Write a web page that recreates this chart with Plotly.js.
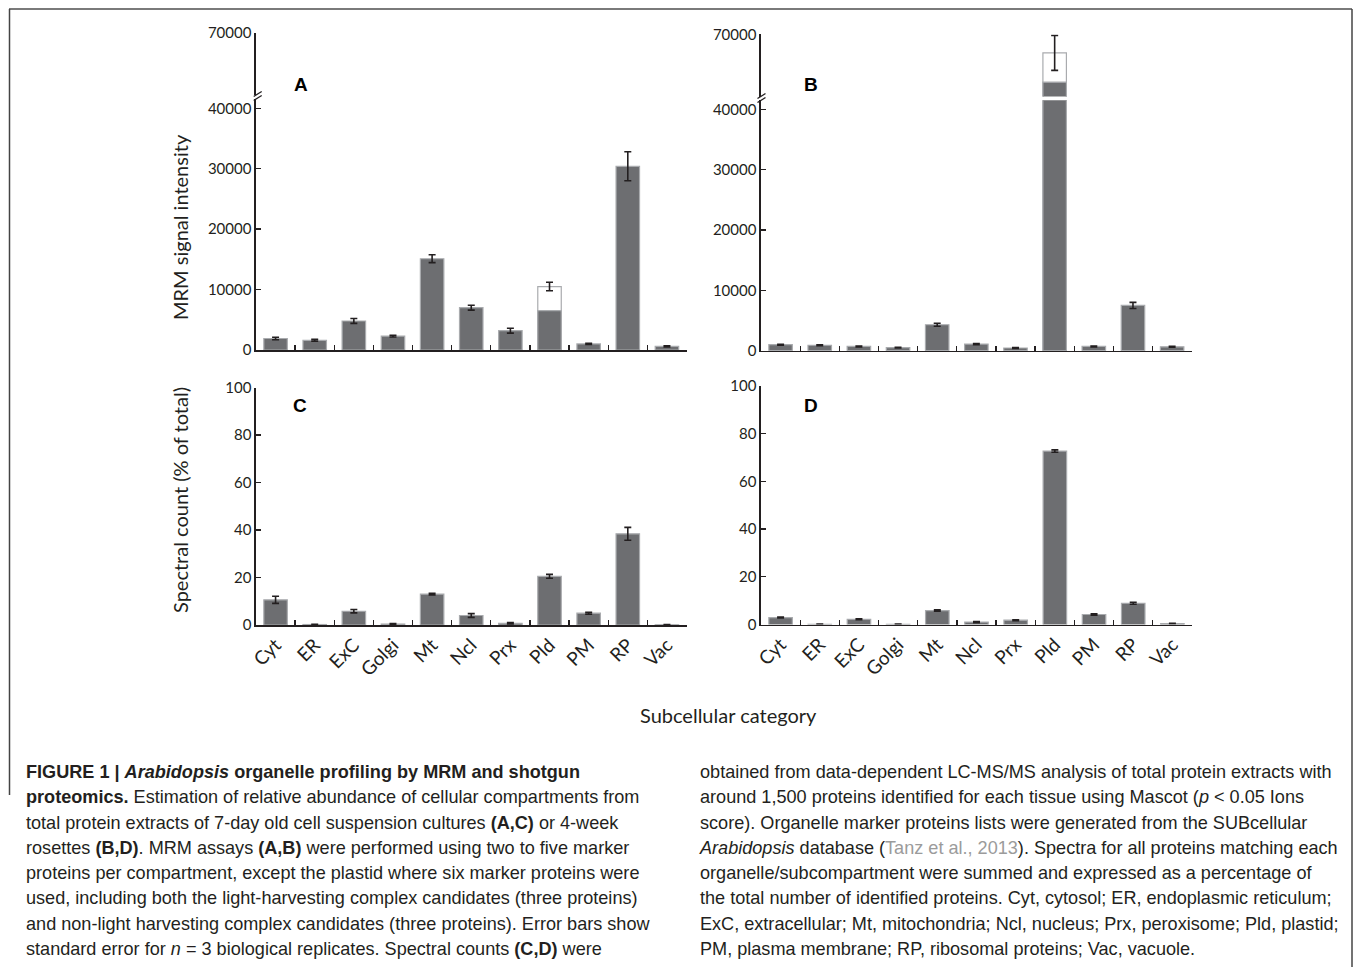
<!DOCTYPE html>
<html>
<head>
<meta charset="utf-8">
<script src="https://cdn.plot.ly/plotly-3.0.1.min.js"></script>
<style>
  html, body { margin: 0; padding: 0; background: #fff; }
  #chart { position: absolute; left: 0; top: 0; width: 1355px; height: 967px; }
  .cap { position: absolute; z-index: 10; font-family: "Liberation Sans", Arial, sans-serif;
         font-size: 18.1px; line-height: 25.3px; color: #231f20; white-space: nowrap; }
  .cap b { font-weight: 700; }
  .cap .ref { color: #9b9b9b; }
</style>
</head>
<body>
<div id="chart"></div>
<div class="cap" id="capL" style="left:26px; top:760px;">
  <div><b>FIGURE 1 | <i>Arabidopsis</i> organelle profiling by MRM and shotgun</b></div>
  <div><b>proteomics.</b> Estimation of relative abundance of cellular compartments from</div>
  <div>total protein extracts of 7-day old cell suspension cultures <b>(A,C)</b> or 4-week</div>
  <div>rosettes <b>(B,D)</b>. MRM assays <b>(A,B)</b> were performed using two to five marker</div>
  <div>proteins per compartment, except the plastid where six marker proteins were</div>
  <div>used, including both the light-harvesting complex candidates (three proteins)</div>
  <div>and non-light harvesting complex candidates (three proteins). Error bars show</div>
  <div>standard error for <i>n</i> = 3 biological replicates. Spectral counts <b>(C,D)</b> were</div>
</div>
<div class="cap" id="capR" style="left:700px; top:760px;">
  <div>obtained from data-dependent LC-MS/MS analysis of total protein extracts with</div>
  <div>around 1,500 proteins identified for each tissue using Mascot (<i>p</i> &lt; 0.05 Ions</div>
  <div>score). Organelle marker proteins lists were generated from the SUBcellular</div>
  <div><i>Arabidopsis</i> database (<span class="ref">Tanz et al., 2013</span>). Spectra for all proteins matching each</div>
  <div>organelle/subcompartment were summed and expressed as a percentage of</div>
  <div>the total number of identified proteins. Cyt, cytosol; ER, endoplasmic reticulum;</div>
  <div>ExC, extracellular; Mt, mitochondria; Ncl, nucleus; Prx, peroxisome; Pld, plastid;</div>
  <div>PM, plasma membrane; RP, ribosomal proteins; Vac, vacuole.</div>
</div>
<script>
// ---------------- data ----------------
const categories = ["Cyt", "ER", "ExC", "Golgi", "Mt", "Ncl", "Prx", "Pld", "PM", "RP", "Vac"];

// MRM signal intensity, cell suspension cultures (panel A): total per compartment
const mrmCellTotal = [1900, 1600, 4800, 2300, 15100, 7000, 3200, 10500, 1000, 30400, 600];
const mrmCellErr   = [200, 150, 400, 150, 650, 400, 400, 700, 100, 2400, 80];
// plastid non-light-harvesting (dark) portion of the Pld bar
const mrmCellPldNonLhc = 6500;

// MRM signal intensity, rosettes (panel B)
const mrmRosTotal = [1000, 900, 700, 500, 4300, 1100, 450, 67000, 700, 7500, 650];
const mrmRosErr   = [80, 80, 70, 60, 250, 100, 60, 2800, 70, 500, 60];
const mrmRosPldNonLhc = 62300;

// Spectral count (% of total), cell cultures (panel C)
const spcCell    = [10.6, 0.2, 5.8, 0.4, 13.0, 4.0, 0.7, 20.5, 5.0, 38.4, 0.1];
const spcCellErr = [1.5, 0.1, 0.7, 0.2, 0.3, 0.8, 0.3, 0.8, 0.4, 2.7, 0.05];

// Spectral count (% of total), rosettes (panel D)
const spcRos    = [2.9, 0.1, 2.2, 0.1, 5.85, 1.0, 1.8, 72.7, 4.2, 8.9, 0.4];
const spcRosErr = [0.2, 0.05, 0.2, 0.05, 0.3, 0.2, 0.2, 0.5, 0.3, 0.4, 0.1];

const tickLow  = [0, 10000, 20000, 30000, 40000];
const tickHigh = [70000];
const tickPct  = [0, 20, 40, 60, 80, 100];

// ---------------- styling ----------------
const W = 1355, H = 967;
const X = p => p / W;
const Y = p => 1 - p / H;
const DARK = '#6d6e71';
const EDGE = '#a9abae';
const INK = '#231f20';
const FONT = 'Lato, "Open Sans", sans-serif';

function totalBars(vals, errs, xa, ya) {
  return {
    type: 'bar', x: categories, y: vals, xaxis: xa, yaxis: ya, width: 0.6,
    marker: { color: categories.map(c => c === 'Pld' ? '#ffffff' : DARK),
              line: { color: EDGE, width: 1.2 } },
    error_y: { type: 'data', array: errs, visible: !!errs, color: INK, thickness: 1.6, width: 3.5 },
    hoverinfo: 'x+y', showlegend: false
  };
}
function pldBars(v, xa, ya) {
  return {
    type: 'bar', x: categories, y: categories.map(c => c === 'Pld' ? v : null),
    xaxis: xa, yaxis: ya, width: 0.6,
    marker: { color: DARK, line: { color: EDGE, width: 1.2 } },
    hoverinfo: 'x+y', showlegend: false
  };
}

const traces = [
  totalBars(mrmCellTotal, mrmCellErr, 'x', 'y'),
  pldBars(mrmCellPldNonLhc, 'x', 'y'),
  totalBars(mrmCellTotal, mrmCellErr, 'x', 'y2'),
  pldBars(mrmCellPldNonLhc, 'x', 'y2'),
  totalBars(mrmRosTotal, mrmRosErr, 'x2', 'y3'),
  pldBars(mrmRosPldNonLhc, 'x2', 'y3'),
  totalBars(mrmRosTotal, mrmRosErr, 'x2', 'y4'),
  pldBars(mrmRosPldNonLhc, 'x2', 'y4'),
  Object.assign(totalBars(spcCell, spcCellErr, 'x3', 'y5'), { marker: { color: DARK, line: { color: EDGE, width: 1.2 } } }),
  Object.assign(totalBars(spcRos, spcRosErr, 'x4', 'y6'), { marker: { color: DARK, line: { color: EDGE, width: 1.2 } } })
];

const tickFont = { family: FONT, size: 15, color: INK };
function xAx(d, anchor, labels) {
  return {
    domain: [X(d[0]), X(d[1])], anchor: anchor, type: 'category',
    range: [-0.5, categories.length - 0.5], tickson: 'boundaries',
    ticks: 'inside', ticklen: 5, tickwidth: 1.3, tickcolor: INK,
    showline: true, linecolor: INK, linewidth: 1.6, showgrid: false, zeroline: false,
    showticklabels: labels, tickangle: -45, tickfont: { family: FONT, size: 19, color: INK },
    fixedrange: true
  };
}
function yAx(top, bottom, range, vals, anchor) {
  return {
    domain: [Y(bottom), Y(top)], anchor: anchor, range: range,
    tickmode: 'array', tickvals: vals, ticktext: vals.map(String),
    ticks: 'inside', ticklen: 5, tickwidth: 1.3, tickcolor: INK,
    showline: true, linecolor: INK, linewidth: 1.6, showgrid: false, zeroline: false,
    tickfont: tickFont, fixedrange: true
  };
}

function brk(x, y) {
  return [
    { type: 'line', xref: 'paper', yref: 'paper', x0: X(x - 4), y0: Y(y + 2.5), x1: X(x + 4), y1: Y(y - 2.5), line: { color: INK, width: 1.3 } },
    { type: 'line', xref: 'paper', yref: 'paper', x0: X(x - 4), y0: Y(y + 6.5), x1: X(x + 4), y1: Y(y + 1.5), line: { color: INK, width: 1.3 } }
  ];
}

const shapes = [
  { type: 'line', xref: 'paper', yref: 'paper', x0: X(9), y0: Y(9), x1: X(1352), y1: Y(9), line: { color: '#7a7a7a', width: 2 } },
  { type: 'line', xref: 'paper', yref: 'paper', x0: X(9.5), y0: Y(9), x1: X(9.5), y1: Y(795), line: { color: '#444', width: 1.5 } },
  { type: 'line', xref: 'paper', yref: 'paper', x0: X(1352), y0: Y(9), x1: X(1352), y1: Y(967), line: { color: '#444', width: 1.5 } }
].concat(brk(257.7, 94), brk(761.5, 96));

function letter(t, x, y) {
  return { text: '<b>' + t + '</b>', x: X(x), y: Y(y), xref: 'paper', yref: 'paper', showarrow: false,
           xanchor: 'center', yanchor: 'middle', font: { family: '"Liberation Sans", Arial, sans-serif', size: 19, color: '#000' } };
}
const titleFont = { family: FONT, size: 20, color: INK };
const annotations = [
  letter('A', 301, 84), letter('B', 811, 84), letter('C', 300, 405), letter('D', 811, 405),
  { text: 'MRM signal intensity', x: X(180), y: Y(227), xref: 'paper', yref: 'paper', showarrow: false,
    textangle: -90, xanchor: 'center', yanchor: 'middle', font: titleFont },
  { text: 'Spectral count (% of total)', x: X(180), y: Y(500), xref: 'paper', yref: 'paper', showarrow: false,
    textangle: -90, xanchor: 'center', yanchor: 'middle', font: titleFont },
  { text: 'Subcellular category', x: X(728), y: Y(715), xref: 'paper', yref: 'paper', showarrow: false,
    xanchor: 'center', yanchor: 'middle', font: titleFont }
];

const layout = {
  width: W, height: H, margin: { l: 0, r: 0, t: 0, b: 0 },
  paper_bgcolor: '#fff', plot_bgcolor: 'rgba(0,0,0,0)',
  barmode: 'overlay', showlegend: false, font: { family: FONT, color: INK },
  xaxis:  xAx([256, 686.5], 'y', false),
  xaxis2: xAx([761, 1191.7], 'y3', false),
  xaxis3: xAx([256, 686.5], 'y5', true),
  xaxis4: xAx([761, 1192], 'y6', true),
  yaxis:  yAx(99.2, 350, [0, 41500], tickLow, 'x'),
  yaxis2: yAx(32.7, 95, [60000, 70000], tickHigh, 'x'),
  yaxis3: yAx(100.2, 350.7, [0, 41500], tickLow, 'x2'),
  yaxis4: yAx(34.3, 96.5, [60000, 70000], tickHigh, 'x2'),
  yaxis5: yAx(387.5, 625, [0, 100], tickPct, 'x3'),
  yaxis6: yAx(386, 624.5, [0, 100], tickPct, 'x4'),
  shapes: shapes, annotations: annotations
};

Plotly.newPlot('chart', traces, layout, { displayModeBar: false, staticPlot: true });
</script>
</body>
</html>
